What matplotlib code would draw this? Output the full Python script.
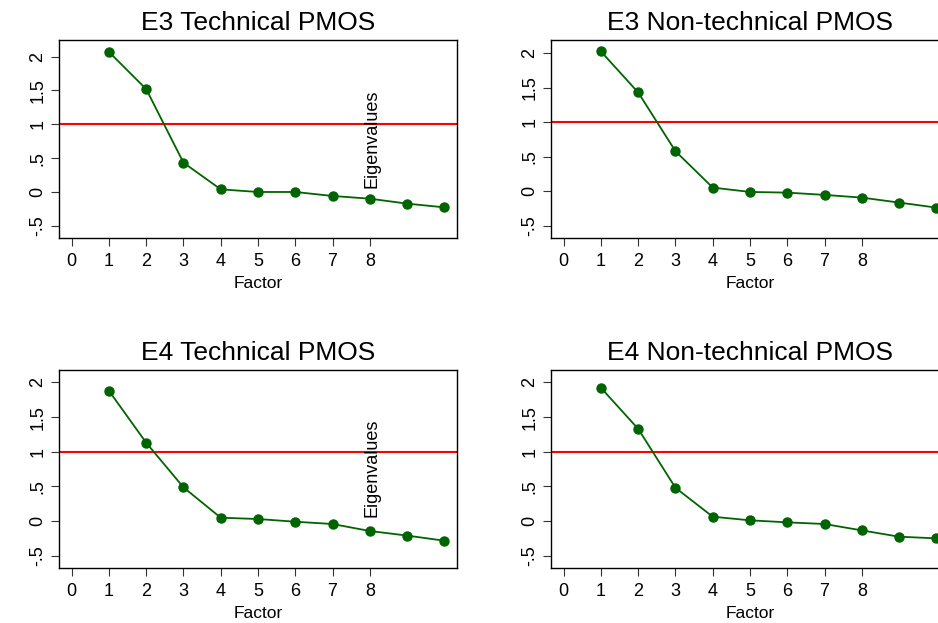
import matplotlib
matplotlib.use("Agg")
import matplotlib.pyplot as plt

plt.rcParams['font.family'] = ['Liberation Sans', 'DejaVu Sans']

factors = [1, 2, 3, 4, 5, 6, 7, 8, 9, 10]
titles = ["E3 Technical PMOS", "E3 Non-technical PMOS",
          "E4 Technical PMOS", "E4 Non-technical PMOS"]
e3_tech = [2.07, 1.52, 0.433, 0.039, 0.0, 0.0, -0.059, -0.099, -0.172, -0.227]
e3_nontech = [2.024, 1.43, 0.58, 0.053, -0.01, -0.02, -0.053, -0.092, -0.164, -0.237]
e4_tech = [1.88, 1.13, 0.486, 0.048, 0.029, -0.01, -0.043, -0.144, -0.21, -0.284]
e4_nontech = [1.923, 1.33, 0.48, 0.0625, 0.01, -0.019, -0.043, -0.135, -0.226, -0.25]
series = [e3_tech, e3_nontech, e4_tech, e4_nontech]
ylims = [(-0.68, 2.246), (-0.677, 2.19), (-0.678, 2.18), (-0.678, 2.18)]
show_eig = [True, False, True, False]

xticks = [0, 1, 2, 3, 4, 5, 6, 7, 8]
yticks = [-0.5, 0, 0.5, 1, 1.5, 2]
yticklabels = ["-.5", "0", ".5", "1", "1.5", "2"]

W, H = 938, 623
fig = plt.figure(figsize=(W / 100, H / 100), dpi=100)

# pixel boxes: (left, top, right, bottom)
boxes = [(59, 40, 457, 238), (551, 40, 949, 238),
         (59, 370, 457, 568), (551, 370, 949, 568)]

green = "#006400"
for i, (l, t, r, b) in enumerate(boxes):
    ax = fig.add_axes([l / W, (H - b) / H, (r - l) / W, (b - t) / H])
    ax.plot(factors, series[i], color=green, lw=1.3, marker='o', ms=6.5,
            mfc=green, mec=green, zorder=3)
    ax.axhline(1, color="red", lw=1.5, zorder=2)
    ax.set_xlim(-0.34, 10.34)
    ax.set_ylim(*ylims[i])
    ax.set_xticks(xticks)
    ax.set_xticklabels([str(v) for v in xticks], fontsize=13)
    ax.set_yticks(yticks)
    ax.set_yticklabels(yticklabels, fontsize=13, rotation=90, va='center')
    ax.tick_params(axis='both', direction='out', length=5.5, width=0.8,
                   color='#333333')
    ax.tick_params(axis='x', pad=5)
    ax.tick_params(axis='y', pad=3.5)
    ax.set_xlabel("Factor", fontsize=12.5, labelpad=4.5)
    ax.set_title(titles[i], fontsize=19, pad=7)
    for s in ax.spines.values():
        s.set_linewidth(1.0)
        s.set_color('black')
    if show_eig[i]:
        ax.text(8.05, 0.06, "Eigenvalues", rotation=90, ha='center',
                va='bottom', fontsize=13)

fig.savefig("out.png", dpi=100)
